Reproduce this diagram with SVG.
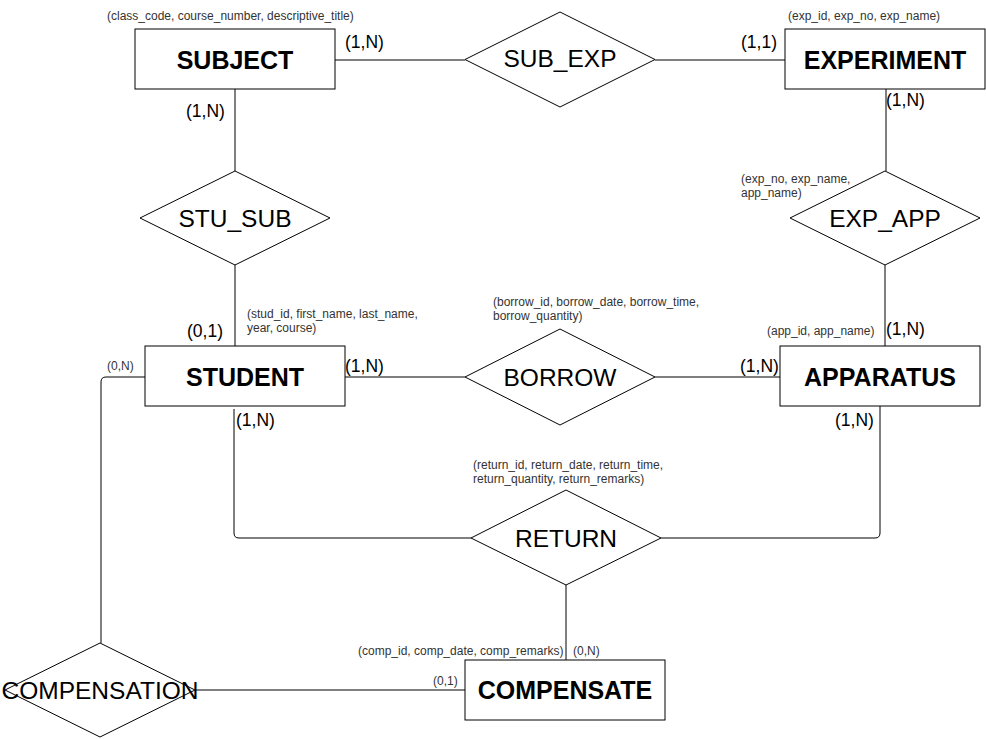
<svg xmlns="http://www.w3.org/2000/svg" width="986" height="739" viewBox="0 0 986 739">
<style>
.shape{fill:#fff;stroke:#000;stroke-width:1}
.conn{fill:none;stroke:#000;stroke-width:1}
.ent{font-family:"Liberation Sans",Arial,sans-serif;font-weight:bold;font-size:25px;fill:#000;text-anchor:middle}
.rel{font-family:"Liberation Sans",Arial,sans-serif;font-size:24.5px;fill:#000;text-anchor:middle}
.card{font-family:"Liberation Sans",Arial,sans-serif;font-size:17.5px;fill:#000}
.attr{font-family:"Liberation Sans",Arial,sans-serif;font-size:12px;fill:#333}
</style>
<rect width="986" height="739" fill="#fff"/>
<g id="connectors">
<path class="conn" d="M335,60 H465"/>
<path class="conn" d="M655,60 H785"/>
<path class="conn" d="M235,89 V171"/>
<path class="conn" d="M235,265 V346"/>
<path class="conn" d="M886,89 V171"/>
<path class="conn" d="M885,265 V346"/>
<path class="conn" d="M345,377 H465"/>
<path class="conn" d="M655,377 H781"/>
<path class="conn" d="M234,409 V533 Q234,538 239,538 H471"/>
<path class="conn" d="M661,538 H875 Q880,538 880,533 V406"/>
<path class="conn" d="M566,585 V660"/>
<path class="conn" d="M145,377 H106 Q101,377 101,382 V643"/>
<path class="conn" d="M195,690 H465"/>
</g>
<g id="subject">
<rect class="shape" x="135" y="29" width="200" height="60"/>
<text class="ent" x="235" y="69">SUBJECT</text>
</g>
<g id="experiment">
<rect class="shape" x="785" y="29" width="200" height="60"/>
<text class="ent" x="885" y="69">EXPERIMENT</text>
</g>
<g id="student">
<rect class="shape" x="145" y="346" width="200" height="60"/>
<text class="ent" x="245" y="386">STUDENT</text>
</g>
<g id="apparatus">
<rect class="shape" x="780" y="346" width="200" height="60"/>
<text class="ent" x="880" y="386">APPARATUS</text>
</g>
<g id="compensate">
<rect class="shape" x="465" y="660" width="200" height="60"/>
<text class="ent" x="565" y="699">COMPENSATE</text>
</g>
<g id="sub_exp">
<polygon class="shape" points="560,12 655,59.5 560,107 465,59.5"/>
<text class="rel" x="560" y="67">SUB_EXP</text>
</g>
<g id="stu_sub">
<polygon class="shape" points="235,171 330,218 235,265 140,218"/>
<text class="rel" x="235" y="227">STU_SUB</text>
</g>
<g id="exp_app">
<polygon class="shape" points="885,171 980,218 885,265 790,218"/>
<text class="rel" x="885" y="227">EXP_APP</text>
</g>
<g id="borrow">
<polygon class="shape" points="560,329 655,377 560,425 465,377"/>
<text class="rel" x="560" y="386">BORROW</text>
</g>
<g id="return">
<polygon class="shape" points="566,490 661,538 566,585 471,538"/>
<text class="rel" x="566" y="547">RETURN</text>
</g>
<g id="compensation">
<polygon class="shape" points="100,643 195,690 100,737 5,690"/>
<text class="rel" x="100" y="699">COMPENSATION</text>
</g>
<g id="labels">
<text class="attr" x="107" y="20">(class_code, course_number, descriptive_title)</text>
<text class="attr" x="788" y="20">(exp_id, exp_no, exp_name)</text>
<text class="card" x="345" y="48">(1,N)</text>
<text class="card" x="741" y="48">(1,1)</text>
<text class="card" x="886" y="106">(1,N)</text>
<text class="card" x="186" y="117">(1,N)</text>
<text class="attr" x="741" y="183">(exp_no, exp_name,</text>
<text class="attr" x="741" y="197">app_name)</text>
<text class="attr" x="247" y="318">(stud_id, first_name, last_name,</text>
<text class="attr" x="247" y="332">year, course)</text>
<text class="card" x="187" y="337">(0,1)</text>
<text class="attr" x="493" y="306">(borrow_id, borrow_date, borrow_time,</text>
<text class="attr" x="493" y="320">borrow_quantity)</text>
<text class="attr" x="767" y="335">(app_id, app_name)</text>
<text class="card" x="886" y="335">(1,N)</text>
<text class="attr" x="107" y="370">(0,N)</text>
<text class="card" x="345" y="372">(1,N)</text>
<text class="card" x="740" y="372">(1,N)</text>
<text class="card" x="236" y="426">(1,N)</text>
<text class="card" x="835" y="426">(1,N)</text>
<text class="attr" x="473" y="469">(return_id, return_date, return_time,</text>
<text class="attr" x="473" y="483">return_quantity, return_remarks)</text>
<text class="attr" x="358" y="655">(comp_id, comp_date, comp_remarks)</text>
<text class="attr" x="573" y="655">(0,N)</text>
<text class="attr" x="433" y="685">(0,1)</text>
</g>
</svg>
